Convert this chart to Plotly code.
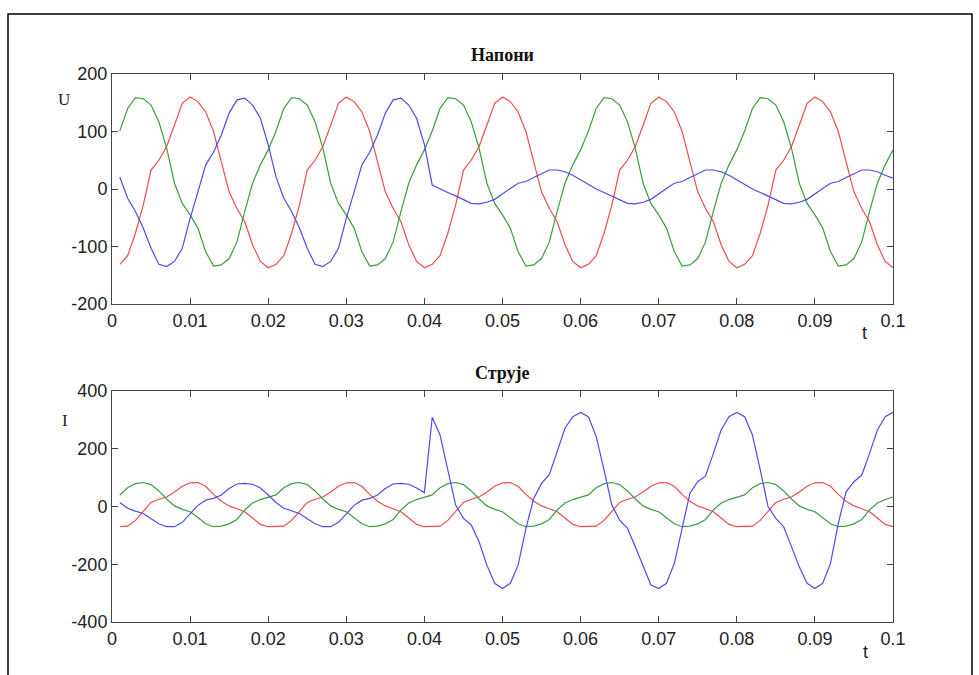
import plotly.graph_objects as go

# time samples (s)
t = [0.001, 0.002, 0.003, 0.004, 0.005, 0.006, 0.007, 0.008, 0.009, 0.010,
     0.011, 0.012, 0.013, 0.014, 0.015, 0.016, 0.017, 0.018, 0.019, 0.020,
     0.021, 0.022, 0.023, 0.024, 0.025, 0.026, 0.027, 0.028, 0.029, 0.030,
     0.031, 0.032, 0.033, 0.034, 0.035, 0.036, 0.037, 0.038, 0.039, 0.040,
     0.041, 0.042, 0.043, 0.044, 0.045, 0.046, 0.047, 0.048, 0.049, 0.050,
     0.051, 0.052, 0.053, 0.054, 0.055, 0.056, 0.057, 0.058, 0.059, 0.060,
     0.061, 0.062, 0.063, 0.064, 0.065, 0.066, 0.067, 0.068, 0.069, 0.070,
     0.071, 0.072, 0.073, 0.074, 0.075, 0.076, 0.077, 0.078, 0.079, 0.080,
     0.081, 0.082, 0.083, 0.084, 0.085, 0.086, 0.087, 0.088, 0.089, 0.090,
     0.091, 0.092, 0.093, 0.094, 0.095, 0.096, 0.097, 0.098, 0.099, 0.100]

# voltages (Напони)
u_red = [-131, -116, -77, -28, 33, 50, 74, 111, 149, 160, 152, 134, 100, 47, -5, -34, -57, -97, -126, -137,
         -131, -116, -77, -28, 33, 50, 74, 111, 149, 160, 152, 134, 100, 47, -5, -34, -57, -97, -126, -137,
         -131, -116, -77, -28, 33, 50, 74, 111, 149, 160, 152, 134, 100, 47, -5, -34, -57, -97, -126, -137,
         -131, -116, -77, -28, 33, 50, 74, 111, 149, 160, 152, 134, 100, 47, -5, -34, -57, -97, -126, -137,
         -131, -116, -77, -28, 33, 50, 74, 111, 149, 160, 152, 134, 100, 47, -5, -34, -57, -97, -126, -137]
u_green = [101, 140, 159, 157, 146, 117, 71, 10, -25, -45, -68, -109, -134, -132, -121, -92, -39, 10, 42, 68,
           101, 140, 159, 157, 146, 117, 71, 10, -25, -45, -68, -109, -134, -132, -121, -92, -39, 10, 42, 68,
           101, 140, 159, 157, 146, 117, 71, 10, -25, -45, -68, -109, -134, -132, -121, -92, -39, 10, 42, 68,
           101, 140, 159, 157, 146, 117, 71, 10, -25, -45, -68, -109, -134, -132, -121, -92, -39, 10, 42, 68,
           101, 140, 159, 157, 146, 117, 71, 10, -25, -45, -68, -109, -134, -132, -121, -92, -39, 10, 42, 68]
u_blue = [21, -16, -39, -68, -103, -131, -135, -126, -103, -51, -5, 42, 64, 94, 132, 155, 158, 146, 123, 77,
          21, -16, -39, -68, -103, -131, -135, -126, -103, -51, -5, 42, 64, 94, 132, 155, 158, 146, 123, 77,
          7, 0, -6, -12, -19, -25, -26, -23, -18, -8, 1, 10, 13, 20, 27, 33, 33, 30, 24, 16,
          7, 0, -6, -12, -19, -25, -26, -23, -18, -8, 1, 10, 13, 20, 27, 33, 33, 30, 24, 16,
          7, 0, -6, -12, -19, -25, -26, -23, -18, -8, 1, 10, 13, 20, 27, 33, 33, 30, 24, 19]

# currents (Струје)
i_red = [-70, -68, -48, -15, 14, 25, 33, 50, 70, 82, 83, 70, 42, 18, 2, -8, -18, -40, -62, -70,
         -70, -68, -48, -15, 14, 25, 33, 50, 70, 82, 83, 70, 42, 18, 2, -8, -18, -40, -62, -70,
         -70, -68, -48, -15, 14, 25, 33, 50, 70, 82, 83, 70, 42, 18, 2, -8, -18, -40, -62, -70,
         -70, -68, -48, -15, 14, 25, 33, 50, 70, 82, 83, 70, 42, 18, 2, -8, -18, -40, -62, -70,
         -70, -68, -48, -15, 14, 25, 33, 50, 70, 82, 83, 70, 42, 18, 2, -8, -18, -40, -62, -70]
i_green = [40, 65, 79, 83, 76, 54, 26, 2, -10, -18, -38, -60, -70, -68, -60, -45, -12, 12, 24, 33,
           40, 65, 79, 83, 76, 54, 26, 2, -10, -18, -38, -60, -70, -68, -60, -45, -12, 12, 24, 33,
           40, 65, 79, 83, 76, 54, 26, 2, -10, -18, -38, -60, -70, -68, -60, -45, -12, 12, 24, 33,
           40, 65, 79, 83, 76, 54, 26, 2, -10, -18, -38, -60, -70, -68, -60, -45, -12, 12, 24, 33,
           40, 65, 79, 83, 76, 54, 26, 2, -10, -18, -38, -60, -70, -68, -60, -45, -12, 12, 24, 33]
i_blue = [14, -6, -16, -24, -42, -60, -70, -70, -55, -25, 4, 22, 28, 40, 62, 78, 80, 77, 64, 40,
          14, -6, -16, -24, -42, -60, -70, -70, -55, -25, 4, 22, 28, 40, 62, 78, 80, 77, 64, 48,
          309, 248, 121, 5, -41, -64, -122, -203, -266, -284, -266, -203, -76, 28, 80, 111, 190, 271, 311, 326,
          311, 242, 127, 5, -47, -76, -139, -209, -272, -284, -266, -197, -70, 46, 86, 106, 184, 265, 311, 326,
          311, 248, 127, 0, -41, -70, -139, -209, -266, -284, -266, -197, -58, 51, 86, 109, 184, 265, 311, 326]

x_ticks = [0, 0.01, 0.02, 0.03, 0.04, 0.05, 0.06, 0.07, 0.08, 0.09, 0.1]
x_tick_text = ["0", "0.01", "0.02", "0.03", "0.04", "0.05", "0.06", "0.07", "0.08", "0.09", "0.1"]
u_ticks = [-200, -100, 0, 100, 200]
i_ticks = [-400, -200, 0, 200, 400]

W, H = 979, 675
RED, GREEN, BLUE = "#ee4b4b", "#3c9e3c", "#4b4bee"

fig = go.Figure()
for y, c in [(u_red, RED), (u_green, GREEN), (u_blue, BLUE)]:
    fig.add_trace(go.Scatter(x=t, y=y, mode="lines", line=dict(color=c, width=1.2),
                             xaxis="x", yaxis="y", showlegend=False))
for y, c in [(i_red, RED), (i_green, GREEN), (i_blue, BLUE)]:
    fig.add_trace(go.Scatter(x=t, y=y, mode="lines", line=dict(color=c, width=1.2),
                             xaxis="x2", yaxis="y2", showlegend=False))

tickfont = dict(family="Liberation Sans, Arial, sans-serif", size=18, color="#222222")
xdom = [112 / W, 893 / W]
common_x = dict(domain=xdom, range=[0, 0.1], tickvals=x_ticks, ticktext=x_tick_text,
                ticks="inside", ticklen=6, tickcolor="#444444", showline=True, linecolor="#444444",
                linewidth=1, mirror="ticks", showgrid=False, zeroline=False, tickfont=tickfont)
common_y = dict(ticks="inside", ticklen=6, tickcolor="#444444", showline=True, linecolor="#444444",
                linewidth=1, mirror="ticks", showgrid=False, zeroline=False, tickfont=tickfont)

fig.update_layout(
    width=W, height=H,
    margin=dict(l=0, r=0, t=0, b=0, autoexpand=False),
    paper_bgcolor="white", plot_bgcolor="white",
    xaxis=dict(anchor="y", **common_x),
    yaxis=dict(anchor="x", domain=[1 - 304 / H, 1 - 74 / H], range=[-200, 200],
               tickvals=u_ticks, ticktext=[str(v) for v in u_ticks], **common_y),
    xaxis2=dict(anchor="y2", **common_x),
    yaxis2=dict(anchor="x2", domain=[1 - 622 / H, 1 - 391 / H], range=[-400, 400],
                tickvals=i_ticks, ticktext=[str(v) for v in i_ticks], **common_y),
)

serif_b = dict(family="Liberation Serif, Times New Roman, serif", size=18, color="#111111")
serif = dict(family="Liberation Serif, Times New Roman, serif", size=17, color="#222222")
sans = dict(family="Liberation Sans, Arial, sans-serif", size=18, color="#222222")
cx = (xdom[0] + xdom[1]) / 2
anns = [
    dict(text="<b>Напони</b>", x=cx, y=1 - 55 / H, font=serif_b),
    dict(text="<b>Струје</b>", x=cx, y=1 - 373 / H, font=serif_b),
    dict(text="U", x=64 / W, y=1 - 99 / H, font=serif),
    dict(text="I", x=65 / W, y=1 - 420 / H, font=serif),
    dict(text="t", x=864 / W, y=1 - 333 / H, font=sans),
    dict(text="t", x=865 / W, y=1 - 652 / H, font=sans),
]
for a in anns:
    fig.add_annotation(xref="paper", yref="paper", showarrow=False,
                       xanchor="center", yanchor="middle", **a)

fig.add_shape(type="rect", xref="paper", yref="paper",
              x0=8 / W, x1=972 / W, y0=-0.05, y1=1 - 14 / H,
              line=dict(color="black", width=1.5), fillcolor="rgba(0,0,0,0)", layer="above")

fig.write_html(
    "out.html",
    config={"displayModeBar": False},
    post_script="document.documentElement.style.margin='0';document.body.style.margin='0';"
                "document.documentElement.style.overflow='hidden';document.body.style.overflow='hidden';",
)
